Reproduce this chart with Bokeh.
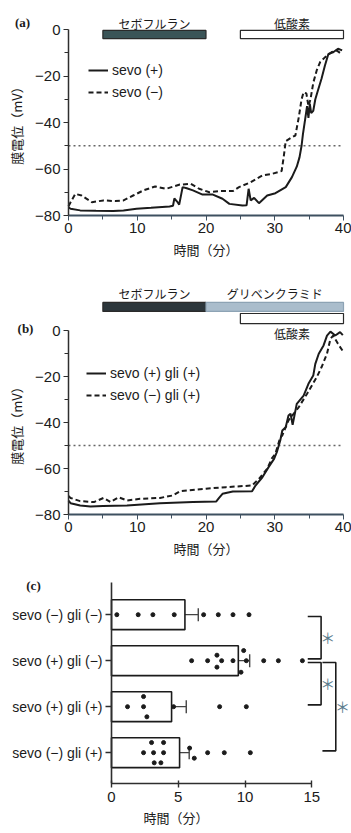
from bokeh.plotting import figure
from bokeh.models import (FixedTicker, Label, Legend, LegendItem,
                          ColumnDataSource, Range1d, Whisker, TeeHead)
from bokeh.core.properties import value
from bokeh.embed import file_html
from bokeh.resources import INLINE

# ---------------- data ----------------
t_a_pos = [0, 0.3, 1.7, 4, 6.5, 8, 9.9, 12, 14.7, 15.2, 15.4, 15.8, 16.1, 16.6, 17.2,
           18.1, 19.5, 21, 22.4, 23.4, 25.3, 25.9, 26.2, 26.5, 27.0, 27.7, 28.9, 30.1,
           31.6, 32.5, 33.2, 33.6, 33.9, 34.1, 34.3, 34.5, 34.7, 34.9, 35.1, 35.3, 35.6,
           35.9, 36.3, 36.8, 37.3, 37.8, 38.5, 39.2, 39.8]
mv_a_pos = [-76.5, -77.1, -77.8, -78, -78.1, -77.8, -77.1, -76.7, -76.1, -75.8, -72.7,
            -74, -75.3, -67.8, -68.3, -69.2, -71, -71, -72.8, -75, -75.7, -75.6, -68.5,
            -73.5, -72.4, -74.7, -71.4, -70.4, -67.8, -63.5, -59, -55, -50, -45, -41,
            -37, -33, -38, -32, -36, -35, -30, -26, -21.2, -15.5, -10.5, -9.8, -8.3, -9]
t_a_neg = [0, 0.3, 1.0, 1.9, 3.4, 5.1, 6.8, 8.0, 9.4, 10.9, 12.6, 14.2, 16.2, 17.8, 19.0,
           20.5, 21.9, 23.9, 24.8, 26.5, 28.2, 29.6, 31.0, 31.3, 31.6, 32.5, 33.0, 33.5,
           33.9, 34.2, 34.6, 34.9, 35.2, 35.6, 36.1, 36.6, 37.3, 38.3, 39.0, 39.7]
mv_a_neg = [-76, -74.3, -70.7, -71.4, -74.3, -73.5, -73.8, -73.5, -71.4, -69.2, -67.5,
            -68.5, -66.7, -66.4, -68.5, -70, -69.5, -69.5, -67.8, -65.7, -62.8, -62.1,
            -60.9, -54.9, -48, -46.3, -45.6, -37.7, -30, -27, -27.5, -33, -30, -23,
            -17.6, -14, -12, -9.7, -9, -10.5]

t_b_pos = [0, 0.3, 1.7, 3.2, 5, 8.5, 13.3, 18.1, 21.5, 21.9, 22.4, 23.9, 26.7, 27.2, 28.2,
           29.1, 29.9, 30.3, 30.8, 31.1, 31.6, 32.0, 32.3, 32.6, 32.8, 33.2, 34.2, 34.9,
           35.6, 35.9, 36.4, 37.1, 37.6, 38.1, 38.8, 39.5, 39.9]
mv_b_pos = [-74, -75.1, -76.1, -76.5, -76.3, -76.1, -75.1, -74.6, -74.3, -72.8, -71, -70,
            -69.9, -67.4, -63.8, -59.4, -55.8, -52.9, -47.8, -43.5, -42, -37, -36.2, -41,
            -38, -31.9, -28.3, -23.2, -19.6, -14.5, -10.1, -6.5, -2.2, -0.5, -2.2, -0.7, -2]
t_b_neg = [0, 0.3, 1.7, 3.7, 5.1, 6.1, 7.3, 8.5, 10.4, 13.3, 15.2, 16.2, 20, 22.9, 26.7,
           27.7, 28.9, 29.6, 30.1, 30.8, 31.1, 32, 33.5, 34.7, 36.1, 36.8, 37.6, 38.1,
           38.5, 39.2, 40]
mv_b_neg = [-72, -72.8, -74.2, -74.6, -72.8, -74.6, -72.5, -73.9, -73.2, -72.8, -71.7,
            -69.9, -68.8, -68.1, -67.4, -64.5, -60.1, -55.5, -53.6, -46.4, -45.6, -39.1,
            -33.3, -27.5, -20.3, -16, -10.1, -3.6, -2.2, -5.8, -9.4]

sevo_period = [5, 20]
gli_period = [20, 40]
hypoxia_period = [25, 40]
threshold_mv = -50

time_ticks = [0, 10, 20, 30, 40]
time_minor = [5, 15, 25, 35]
mv_ticks = [0, -20, -40, -60, -80]
mv_tick_labels = ["0", "−20", "−40", "−60", "−80"]
mv_minor = [-10, -30, -50, -70]

categories = ["sevo (−) gli (−)", "sevo (+) gli (−)", "sevo (+) gli (+)", "sevo (−) gli (+)"]
means = [5.5, 9.5, 4.5, 5.1]
sems = [1.0, 0.85, 1.1, 0.72]
points = [
    [0.4, 2.0, 3.1, 4.7, 6.9, 8.0, 9.1, 10.3],
    [6.0, 7.2, 7.9, 7.9, 8.25, 9.1, 9.9, 10.1, 9.7, 11.4, 12.5, 14.3],
    [1.2, 2.4, 2.4, 2.65, 4.65, 8.1, 10.1],
    [2.4, 3.0, 3.9, 3.15, 3.9, 3.2, 3.7, 5.85, 6.2, 7.2, 8.45, 10.4],
]
jitter = [
    [0, 0, 0, 0, 0, 0, 0, 0],
    [0, 0, 0.12, -0.14, 0, 0, 0.22, 0, -0.25, 0, 0, 0],
    [0, 0.22, 0, -0.22, 0, 0, 0],
    [0, 0.22, 0.22, 0, 0, -0.22, -0.22, 0.1, -0.12, 0, 0, 0],
]
comparisons = [(0, 1), (1, 2), (1, 3)]
c_ticks = [0, 5, 10, 15]

# ---------------- styling ----------------
JP = value("Noto Sans CJK JP")
LAT = "Liberation Sans"
INK = "#1b1b1b"
AXC = "#2e2e2e"
XAXC = "#3e5060"
W = 351
PX_PER_MIN = 275 / 40.0   # horizontal scale of panels (a)/(b)
ORIGIN_PX = 68            # pixel position of t = 0


def time_panel(height, b_top, px_per_mv, zero_px):
    """zero_px: pixel offset of 0 mV below the frame top."""
    frame_h = height - b_top
    y_top = zero_px / px_per_mv
    y_bot = -(frame_h - zero_px) / px_per_mv
    p = figure(width=W, height=height,
               x_range=Range1d(-ORIGIN_PX / PX_PER_MIN, (W - ORIGIN_PX) / PX_PER_MIN),
               y_range=Range1d(y_bot, y_top), output_backend="svg",
               toolbar_location=None, min_border_left=0, min_border_right=0,
               min_border_top=b_top, min_border_bottom=0)
    p.grid.visible = False
    p.outline_line_color = None
    xa, ya = p.xaxis[0], p.yaxis[0]
    ya.fixed_location = time_ticks[0]
    xa.fixed_location = mv_ticks[-1]
    xa.ticker = FixedTicker(ticks=time_ticks, minor_ticks=time_minor)
    xa.bounds = (time_ticks[0], time_ticks[-1])
    ya.ticker = FixedTicker(ticks=mv_ticks, minor_ticks=mv_minor)
    ya.bounds = (mv_ticks[-1], mv_ticks[0])
    ya.major_label_overrides = dict(zip(mv_ticks, mv_tick_labels))
    for ax in (xa, ya):
        ax.major_label_text_font = LAT
        ax.major_label_text_font_size = "15px"
        ax.major_label_text_color = INK
        ax.major_tick_out = 5
        ax.major_tick_in = 0
        ax.minor_tick_out = 4
        ax.minor_tick_in = 0
        ax.axis_label_text_font = "Noto Sans CJK JP"
        ax.axis_label_text_font_size = "13px"
        ax.axis_label_text_font_style = "normal"
        ax.axis_label_text_color = INK
    xa.axis_line_color = XAXC
    xa.axis_line_width = 2
    xa.major_tick_line_color = XAXC
    xa.minor_tick_line_color = XAXC
    ya.axis_line_color = AXC
    ya.axis_line_width = 1.5
    ya.major_tick_line_color = AXC
    ya.minor_tick_line_color = AXC
    xa.major_label_standoff = 2
    xa.axis_label_standoff = 4
    ya.major_label_standoff = 3
    ya.axis_label_standoff = 6
    xa.axis_label = "時間（分）"
    ya.axis_label = "膜電位（mV）"
    p.segment(x0=[time_ticks[0]], x1=[time_ticks[-1]], y0=[threshold_mv],
              y1=[threshold_mv], line_color="#666666", line_dash="2 3", line_width=1.5)
    return p


def add_lines(p, t1, v1, t2, v2, lab1, lab2, lx, ly):
    r1 = p.line(t1, v1, line_color=INK, line_width=2)
    r2 = p.line(t2, v2, line_color=INK, line_width=2, line_dash="5 3")
    leg = Legend(items=[LegendItem(label=lab1, renderers=[r1]),
                        LegendItem(label=lab2, renderers=[r2])],
                 location=(lx, ly), glyph_width=20, glyph_height=14, label_height=14,
                 spacing=6, padding=0, margin=0, border_line_color=None,
                 background_fill_alpha=0, label_standoff=4,
                 label_text_font=LAT, label_text_font_size="14px",
                 label_text_color=INK)
    p.add_layout(leg)


def bar(p, period, bottom, top, fill, line="#2a2a2a"):
    p.quad(left=[period[0]], right=[period[1]], bottom=[bottom], top=[top],
           fill_color=fill, line_color=line, line_width=1.2)


def bar_label(p, period, y, text, size="12px"):
    p.text(x=[(period[0] + period[1]) / 2], y=[y], text=[text], text_font=JP,
           text_font_size=size, text_align="center", text_baseline="middle",
           text_color=INK)


def panel_tag(p, text, sx, sy):
    p.add_layout(Label(x=sx, y=sy, x_units="screen", y_units="screen", text=text,
                       text_font="Liberation Serif", text_font_style="bold",
                       text_font_size="13px", text_align="center",
                       text_baseline="middle", text_color=INK))


# ---------------- panel (a) ----------------
pa = time_panel(270, 10, 186 / 80.0, 19)
bar(pa, sevo_period, -3.9, -0.4, "#3a5457")
bar(pa, hypoxia_period, -3.9, -0.4, "white")
bar_label(pa, sevo_period, 2.6, "セボフルラン")
bar_label(pa, hypoxia_period, 2.6, "低酸素")
add_lines(pa, t_a_pos, mv_a_pos, t_a_neg, mv_a_neg, "sevo (+)", "sevo (−)", 88, 170)
panel_tag(pa, "(a)", 22, 248)

# ---------------- panel (b) ----------------
pb = time_panel(290, 14, 184 / 80.0, 46)
bar(pb, sevo_period, 8.3, 12.2, "#2c363b")
bar(pb, gli_period, 8.3, 12.2, "#aabdcc", line="#8da3b4")
bar(pb, hypoxia_period, 3.0, 7.4, "white")
bar_label(pb, sevo_period, 16.1, "セボフルラン")
bar_label(pb, gli_period, 16.1, "グリベンクラミド")
bar_label(pb, hypoxia_period, -1.4, "低酸素")
add_lines(pb, t_b_pos, mv_b_pos, t_b_neg, mv_b_neg, "sevo (+) gli (+)",
          "sevo (−) gli (+)", 86, 157)
panel_tag(pb, "(b)", 25, 232)

# ---------------- panel (c) ----------------
n = len(categories)
ypos = [n - 1 - i for i in range(n)]
C_PX = 13.35
C_X0 = 111
y_lo, y_hi = -0.67, 3.7
pc = figure(width=W, height=273, x_range=Range1d(-C_X0 / C_PX, (W - C_X0) / C_PX),
            y_range=Range1d(y_lo, y_hi + 7 / 46.0),
            output_backend="svg", toolbar_location=None, min_border_left=0,
            min_border_right=0, min_border_top=15, min_border_bottom=50)
pc.grid.visible = False
pc.outline_line_color = None
pc.hbar(y=ypos, left=0, right=means, height=0.65, fill_color="white",
        line_color=INK, line_width=1.6)
err = ColumnDataSource(dict(base=ypos, lower=[m - s for m, s in zip(means, sems)],
                            upper=[m + s for m, s in zip(means, sems)]))
pc.add_layout(Whisker(source=err, base="base", lower="lower", upper="upper",
                      dimension="width", line_color="#444444", line_width=1.2,
                      lower_head=TeeHead(size=13, line_color="#444444", line_width=1.4),
                      upper_head=TeeHead(size=13, line_color="#444444", line_width=1.4)))
dx, dy = [], []
for i, (vals, jit) in enumerate(zip(points, jitter)):
    for v, j in zip(vals, jit):
        dx.append(v)
        dy.append(ypos[i] + j)
pc.scatter(dx, dy, size=4, fill_color=INK, line_color=INK)

bx = [15.7, 15.7, 16.8]
arm = 1.0
xs, ys, sx, sy = [], [], [], []
for (a, b), x in zip(comparisons, bx):
    ya_, yb_ = ypos[a] - 0.04, ypos[b] + 0.04
    xs.append([x - arm, x, x, x - arm])
    ys.append([ya_, ya_, yb_, yb_])
    sx.append(x + 0.5)
    sy.append((ya_ + yb_) / 2)
pc.multi_line(xs, ys, line_color=INK, line_width=1.6)
pc.text(x=sx, y=sy, text=["＊"] * len(sx), text_font=JP, text_font_size="15px",
        text_align="center", text_baseline="middle", text_color="#5b7d8e")

xa, ya = pc.xaxis[0], pc.yaxis[0]
ya.fixed_location = 0
xa.ticker = FixedTicker(ticks=c_ticks)
xa.bounds = (c_ticks[0], c_ticks[-1])
ya.ticker = FixedTicker(ticks=ypos)
ya.bounds = (y_lo, y_hi)
ya.major_label_overrides = dict(zip(ypos, categories))
for ax in (xa, ya):
    ax.axis_line_color = AXC
    ax.axis_line_width = 1.6
    ax.major_tick_line_color = AXC
    ax.major_tick_line_width = 1.4
    ax.minor_tick_line_color = None
    ax.major_label_text_color = INK
    ax.major_label_text_font = LAT
xa.major_tick_in = 3
xa.major_tick_out = 4
xa.major_label_text_font_size = "15px"
xa.major_label_standoff = 4
xa.axis_label = "時間（分）"
xa.axis_label_text_font = "Noto Sans CJK JP"
xa.axis_label_text_font_size = "13px"
xa.axis_label_text_font_style = "normal"
xa.axis_label_text_color = INK
xa.axis_label_standoff = 3
ya.major_tick_in = 0
ya.major_tick_out = 6
ya.major_label_text_font_size = "14px"
ya.major_label_standoff = 3
panel_tag(pc, "(c)", 33, 198)

open("out.html", "w").write(file_html([pa, pb, pc], INLINE))
